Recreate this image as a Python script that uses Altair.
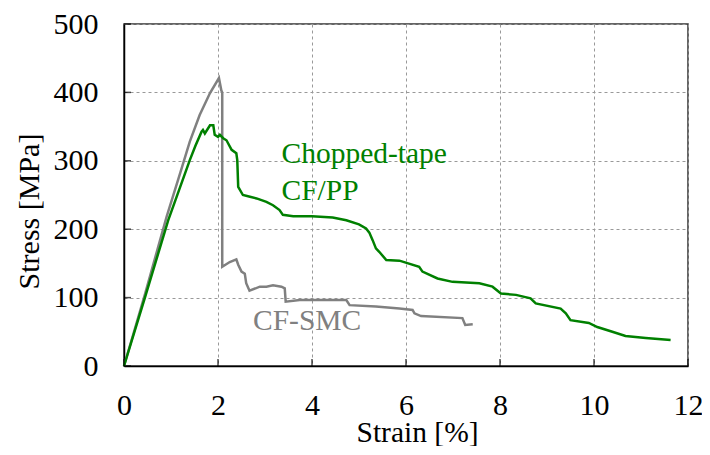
import altair as alt
import pandas as pd

# CF-SMC (gray)
smc_strain = [0, 0.45, 0.906, 1.2, 1.40, 1.61, 1.83, 2.02, 2.07, 2.09, 2.09, 2.25, 2.39, 2.43, 2.50, 2.57, 2.60,
              2.67, 2.89, 3.03, 3.17, 3.35, 3.42, 3.44, 3.74, 4.73, 4.80, 5.36, 5.86, 6.14, 6.18, 6.32, 7.20,
              7.26, 7.42]
smc_stress = [0, 106, 218, 283, 328, 367, 399, 421, 403, 400, 145, 152, 156, 148, 138, 135, 121,
              110, 116, 116, 118, 116, 113.5, 94, 96.5, 96.5, 89, 87, 84, 82, 77, 73, 70,
              60, 61]

# Chopped-tape CF/PP (green)
pp_strain = [0, 0.45, 0.94, 1.40, 1.52, 1.65, 1.68, 1.72, 1.83, 1.90, 1.93, 2.00, 2.04, 2.11, 2.18, 2.29,
             2.39, 2.41, 2.43, 2.53, 2.68, 2.82, 3.03, 3.17, 3.31, 3.38, 3.6, 4.0, 4.44, 4.73, 5.0,
             5.15, 5.22, 5.29, 5.36, 5.43, 5.58, 5.86, 6.28, 6.35, 6.67, 6.99, 7.56, 7.84, 8.02,
             8.34, 8.65, 8.76, 9.29, 9.40, 9.50, 9.89, 10.07, 10.39, 10.67, 11.10, 11.63]
pp_stress = [0, 101, 213, 301, 322, 342.5, 345, 340, 352, 352, 338, 335, 338, 333, 330, 316,
             311, 301, 262, 250, 247.5, 245, 240, 235, 228, 221, 219, 219, 217, 213, 207,
             201, 195, 184, 172, 167, 155, 154, 145, 138, 128, 123, 121, 116, 106,
             104, 99, 91.5, 84, 77, 67, 63, 57, 50, 44, 41, 38]

x_ticks = [0, 2, 4, 6, 8, 10, 12]
y_ticks = [0, 100, 200, 300, 400, 500]

labels_text = ["Chopped-tape", "CF/PP", "CF-SMC"]
labels_strain = [3.35, 3.35, 2.745]
labels_stress = [297, 243, 53]
labels_color = ["#008000", "#008000", "#808080"]

FONT = "Liberation Serif"
W, H = 564, 342

xs = alt.Scale(domain=[0, 12], nice=False)
ys = alt.Scale(domain=[0, 500], nice=False)

smc = pd.DataFrame({"strain": smc_strain, "stress": smc_stress})
pp = pd.DataFrame({"strain": pp_strain, "stress": pp_stress})
labs = pd.DataFrame({"strain": labels_strain, "stress": labels_stress,
                     "label": labels_text, "col": labels_color})
xtk = pd.DataFrame({"strain": x_ticks})
ytk = pd.DataFrame({"stress": y_ticks})

common = dict(labelFont=FONT, titleFont=FONT, labelFontSize=30,
              labelColor="black", titleColor="black", titleFontWeight="normal",
              domainColor="black", domainWidth=1.5, ticks=False, tickSize=0,
              grid=True, gridDash=[3, 3], gridColor="#999999", gridWidth=1,
              labelFlush=False, labelOverlap=False)

xaxis = alt.Axis(values=x_ticks, title="Strain [%]", labelPadding=24, titleFontSize=29.5,
                 titleX=293, titleY=75, titleBaseline="alphabetic", titleAnchor="start",
                 titleAlign="center", **common)
yaxis = alt.Axis(values=y_ticks, title="Stress [MPa]", labelPadding=26, titleFontSize=30,
                 titleX=-86, titleY=187, titleAngle=270, titleBaseline="alphabetic",
                 titleAlign="center", titleAnchor="start", **common)

X = alt.X("strain:Q", scale=xs, axis=xaxis)
Y = alt.Y("stress:Q", scale=ys, axis=yaxis)

gray_line = alt.Chart(smc).transform_window(idx="row_number()").mark_line(
    color="#808080", strokeWidth=2.5).encode(x=X, y=Y, order=alt.Order("idx:Q"))

green_line = alt.Chart(pp).transform_window(idx="row_number()").mark_line(
    color="#008000", strokeWidth=2.5).encode(x=X, y=Y, order=alt.Order("idx:Q"))

xt = alt.Chart(xtk).mark_tick(orient="vertical", size=7, thickness=1.5, color="black").encode(
    x=X, y=alt.value(H - 3.5))
yt = alt.Chart(ytk).mark_tick(orient="horizontal", size=7, thickness=1.5, color="black").encode(
    y=Y, x=alt.value(3.5))

texts = alt.Chart(labs).mark_text(font=FONT, fontSize=29.5, align="left", baseline="alphabetic").encode(
    x=X, y=Y, text="label:N", color=alt.Color("col:N", scale=None))

chart = alt.layer(gray_line, green_line, xt, yt, texts).properties(
    width=W, height=H,
    autosize=alt.AutoSizeParams(type="none"),
    padding={"left": 116, "top": 16, "right": 14, "bottom": 80},
).configure_view(
    stroke="#333333", strokeWidth=1.5
).configure_axis(
    labelFont=FONT, titleFont=FONT,
)

chart.save("out.html", embed_options={"renderer": "svg", "actions": False})
